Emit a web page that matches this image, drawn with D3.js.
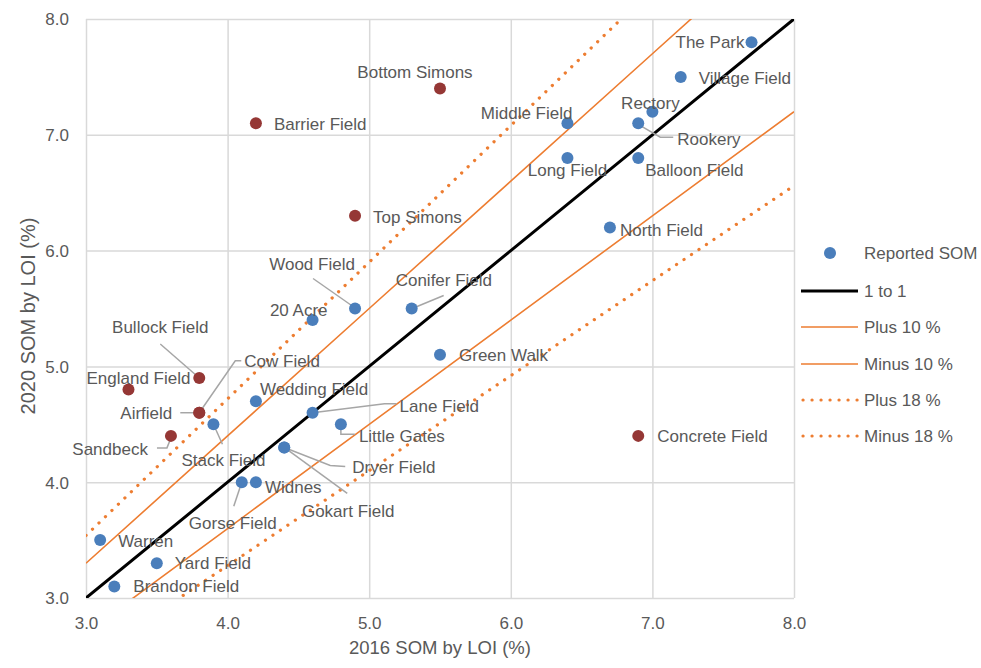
<!DOCTYPE html>
<html>
<head>
<meta charset="utf-8">
<script src="https://cdn.jsdelivr.net/npm/d3@7"></script>
<style>
  body { margin: 0; background: #fff; }
  svg { display: block; }
  text { font-family: "Liberation Sans", Arial, sans-serif; fill: #595959; }
</style>
</head>
<body>
<svg id="chart" width="981" height="668"></svg>
<script>
// ---------------- DATA ----------------
const fields = ["The Park","Village Field","Rectory","Rookery","Middle Field","Long Field","Balloon Field",
  "North Field","Bottom Simons","Barrier Field","Top Simons","Wood Field","Conifer Field","20 Acre",
  "Green Walk","Wedding Field","Lane Field","Little Gates","Stack Field","Dryer Field","Gokart Field",
  "Widnes","Gorse Field","Bullock Field","England Field","Airfield","Cow Field","Sandbeck",
  "Concrete Field","Warren","Yard Field","Brandon Field"];
const som2016 = [7.7,7.2,7.0,6.9,6.4,6.4,6.9,6.7,5.5,4.2,4.9,4.9,5.3,4.6,5.5,4.2,4.6,4.8,3.9,4.4,4.4,
  4.2,4.1,3.8,3.3,3.8,3.8,3.6,6.9,3.1,3.5,3.2];
const som2020 = [7.8,7.5,7.2,7.1,7.1,6.8,6.8,6.2,7.4,7.1,6.3,5.5,5.5,5.4,5.1,4.7,4.6,4.5,4.5,4.3,4.3,
  4.0,4.0,4.9,4.8,4.6,4.6,4.4,4.4,3.5,3.3,3.1];
// true = outside the +/-18 % band (drawn dark red)
const outside = [false,false,false,false,false,false,false,false,true,true,true,false,false,false,
  false,false,false,false,false,false,false,false,false,true,true,true,true,true,true,false,false,false];

const xTicks = [3.0,4.0,5.0,6.0,7.0,8.0];
const yTicks = [3.0,4.0,5.0,6.0,7.0,8.0];
const refNames = ["1 to 1","Plus 10 %","Minus 10 %","Plus 18 %","Minus 18 %"];
const refFactors = [1.0,1.1,0.9,1.18,0.82];
const legendNames = ["Reported SOM"].concat(refNames);

// ---------------- LAYOUT (label placement, px offsets from point) ----------------
const labelLayout = [
  {dx:-7,dy:0,a:"end"},            // The Park
  {dx:18,dy:1,a:"start"},          // Village Field
  {dx:-2,dy:-9,a:"middle"},        // Rectory
  {dx:39,dy:16,a:"start",L:[[3,3],[22,14],[35,14]]}, // Rookery
  {dx:5,dy:-10,a:"end"},           // Middle Field
  {dx:0,dy:12,a:"middle"},         // Long Field
  {dx:7,dy:12,a:"start"},          // Balloon Field
  {dx:10,dy:3,a:"start"},          // North Field
  {dx:-25,dy:-16,a:"middle"},      // Bottom Simons
  {dx:18,dy:1,a:"start"},          // Barrier Field
  {dx:18,dy:1,a:"start"},          // Top Simons
  {dx:-43,dy:-44,a:"middle",L:[[-2,-2],[-42,-30]]}, // Wood Field
  {dx:-16,dy:-28,a:"start",L:[[3,-1],[32,-13]]},    // Conifer Field
  {dx:15,dy:-10,a:"end"},          // 20 Acre
  {dx:19,dy:0,a:"start"},          // Green Walk
  {dx:4,dy:-12,a:"start"},         // Wedding Field
  {dx:87,dy:-7,a:"start",L:[[0,0],[72,-9],[84,-9]]}, // Lane Field
  {dx:18,dy:12,a:"start",L:[[0,2],[0,10],[14,10]]},  // Little Gates
  {dx:10,dy:36,a:"middle",L:[[0,0],[9,20]]},         // Stack Field
  {dx:68,dy:20,a:"start",L:[[0,0],[46,18],[61,19]]}, // Dryer Field
  {dx:64,dy:64,a:"middle",L:[[0,0],[63,46]]},        // Gokart Field
  {dx:9,dy:5,a:"start"},           // Widnes
  {dx:-9,dy:41,a:"middle",L:[[0,0],[-8,24]]},        // Gorse Field
  {dx:-39,dy:-51,a:"middle",L:[[0,0],[-39,-34]]},    // Bullock Field
  {dx:10,dy:-12,a:"middle"},       // England Field
  {dx:-27,dy:0,a:"end",L:[[-19,0],[-2,0]]},          // Airfield
  {dx:45,dy:-52,a:"start",L:[[0,0],[36,-52],[42,-52]]}, // Cow Field
  {dx:-23,dy:13,a:"end",L:[[-14,12],[-4,12],[0,2]]}, // Sandbeck
  {dx:19,dy:0,a:"start"},          // Concrete Field
  {dx:18,dy:1,a:"start"},          // Warren
  {dx:18,dy:0,a:"start"},          // Yard Field
  {dx:19,dy:0,a:"start"}           // Brandon Field
];

// ---------------- DRAW ----------------
const svg = d3.select("#chart");
const pLeft = 86, pRight = 794, pTop = 19, pBottom = 598;
const x = d3.scaleLinear().domain([3, 8]).range([pLeft, pRight]);
const y = d3.scaleLinear().domain([3, 8]).range([pBottom, pTop]);

const blue = "#4a7ebb", red = "#953735", orange = "#ed7d31", grid = "#d9d9d9";
const refStyles = [
  {c:"#000", w:3, dash:null},
  {c:orange, w:1.6, dash:null},
  {c:orange, w:1.6, dash:null},
  {c:orange, w:3.2, dash:"0.1 8.9"},
  {c:orange, w:3.2, dash:"0.1 8.9"}
];

svg.append("defs").append("clipPath").attr("id","plotclip")
  .append("rect").attr("x",pLeft).attr("y",pTop).attr("width",pRight-pLeft).attr("height",pBottom-pTop);

// gridlines + tick labels
const xAxis = d3.axisBottom(x).tickValues(xTicks).tickSize(-(pBottom-pTop)).tickFormat(d3.format(".1f")).tickPadding(19);
const yAxis = d3.axisLeft(y).tickValues(yTicks).tickSize(-(pRight-pLeft)).tickFormat(d3.format(".1f")).tickPadding(17);
const gx = svg.append("g").attr("transform",`translate(0,${pBottom})`).call(xAxis);
const gy = svg.append("g").attr("transform",`translate(${pLeft},0)`).call(yAxis);
[gx, gy].forEach(g => {
  g.select(".domain").remove();
  g.selectAll(".tick line").attr("stroke",grid).attr("stroke-width",1.5);
  g.selectAll(".tick text").attr("fill","#595959").style("font-size","17px")
    .style("font-family","'Liberation Sans', Arial, sans-serif");
});
gx.selectAll(".tick text").attr("dy","0.71em");
gy.selectAll(".tick text").attr("dy","0.35em");

// reference lines
const lineGen = d3.line().x(d => x(d[0])).y(d => y(d[1]));
const refG = svg.append("g").attr("clip-path","url(#plotclip)");
refFactors.forEach((f, i) => {
  const pts = xTicks.map(v => [v, v * f]);
  const s = refStyles[i];
  refG.append("path").datum(pts).attr("d", lineGen)
    .attr("fill","none").attr("stroke",s.c).attr("stroke-width",s.w)
    .attr("stroke-linecap", s.dash ? "round" : "butt")
    .attr("stroke-dasharray", s.dash);
});

// leader lines
const leaderG = svg.append("g");
fields.forEach((f, i) => {
  const L = labelLayout[i].L;
  if (!L) return;
  const px = x(som2016[i]), py = y(som2020[i]);
  leaderG.append("path").attr("d", d3.line()(L.map(p => [px + p[0], py + p[1]])))
    .attr("fill","none").attr("stroke","#a6a6a6").attr("stroke-width",1.5);
});

// points
svg.append("g").selectAll("circle").data(fields).join("circle")
  .attr("cx",(d,i) => x(som2016[i])).attr("cy",(d,i) => y(som2020[i])).attr("r",6)
  .attr("fill",(d,i) => outside[i] ? red : blue);

// labels
svg.append("g").selectAll("text").data(fields).join("text")
  .attr("x",(d,i) => x(som2016[i]) + labelLayout[i].dx)
  .attr("y",(d,i) => y(som2020[i]) + labelLayout[i].dy)
  .attr("dy","0.35em")
  .attr("text-anchor",(d,i) => labelLayout[i].a)
  .style("font-size","17px")
  .text(d => d);

// axis titles
svg.append("text").attr("x",(pLeft+pRight)/2).attr("y",648).attr("dy","0.35em").attr("text-anchor","middle")
  .style("font-size","18.5px").text("2016 SOM by LOI (%)");
svg.append("text").attr("transform",`translate(28,316) rotate(-90)`).attr("dy","0.35em")
  .attr("text-anchor","middle").style("font-size","20px").text("2020 SOM by LOI (%)");

// legend
const lg = svg.append("g");
const legY = [253, 291, 327, 364, 400, 436];
legendNames.forEach((n, i) => {
  if (i === 0) {
    lg.append("circle").attr("cx",830).attr("cy",legY[i]).attr("r",6).attr("fill",blue);
  } else {
    const s = refStyles[i-1];
    lg.append("line").attr("x1", s.dash ? 803 : 801).attr("x2",858).attr("y1",legY[i]).attr("y2",legY[i])
      .attr("stroke",s.c).attr("stroke-width",s.w)
      .attr("stroke-linecap", s.dash ? "round" : "butt")
      .attr("stroke-dasharray", s.dash);
  }
  lg.append("text").attr("x",864).attr("y",legY[i]).attr("dy","0.35em")
    .style("font-size","17px").text(n);
});
</script>
</body>
</html>
